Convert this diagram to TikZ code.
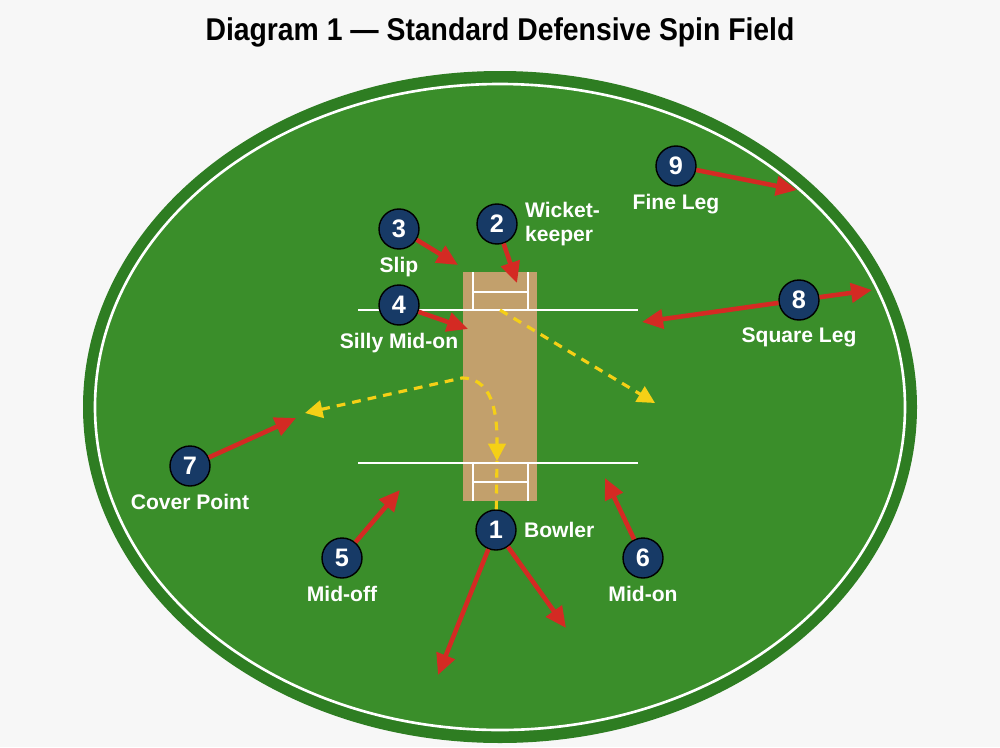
\documentclass[tikz,border=0pt]{standalone}
\usepackage{fontspec}
\setmainfont{Liberation Sans}
\usetikzlibrary{arrows.meta, positioning}
\definecolor{grassdark}{HTML}{2E7D22}
\definecolor{grass}{HTML}{3A8E2A}
\definecolor{pitchtan}{HTML}{C2A06C}
\definecolor{fielder}{HTML}{173A66}
\definecolor{move}{HTML}{D42A23}
\definecolor{ball}{HTML}{F5D016}
\begin{document}
\begin{tikzpicture}[
    x=0.02cm, y=-0.02cm,
    player/.style={circle, draw=black, thick, fill=fielder, text=white, minimum size=40*0.02cm, inner sep=0pt, font=\Large\bfseries},
    plabel/.style={text=white, font=\large\bfseries, align=left, inner sep=0pt},
    run/.style={-{Triangle[length=4.2mm, width=3.8mm]}, move, line width=2.6pt},
    path/.style={-{Triangle[length=3.5mm, width=3.5mm]}, ball, dashed, line width=1.8pt, dash pattern=on 5pt off 4pt},
    crease/.style={white, line width=1.5pt}
]
\useasboundingbox (0,0) rectangle (1000,747);
\fill[black!3] (0,0) rectangle (1000,747);

\node[font=\fontsize{16}{20}\selectfont\bfseries, scale=1.12, xscale=0.9] (title) at (500,32) {Diagram 1 — Standard Defensive Spin Field};

% ground
\fill[grassdark] (500,407) ellipse [x radius=417, y radius=336];
\fill[grass] (500,407) ellipse [x radius=405, y radius=323];
\draw[white, line width=1.5pt] (500,407) ellipse [x radius=405, y radius=323];

% pitch and creases
\fill[pitchtan] (463,272) rectangle (537,501);
\draw[crease] (358,310) -- (638,310);
\draw[crease] (358,463) -- (638,463);
\draw[crease] (473,272) -- (473,310) (528,272) -- (528,310) (473,292) -- (528,292);
\draw[crease] (473,463) -- (473,501) (528,463) -- (528,501) (473,482) -- (528,482);

% fielders
\node[player] (bowler) at (496,530) {1};
\node[player] (keeper) at (497,224) {2};
\node[player] (slip) at (399,229) {3};
\node[player] (silly) at (399,305) {4};
\node[player] (midoff) at (342,558) {5};
\node[player] (midon) at (643,558) {6};
\node[player] (cover) at (190,466) {7};
\node[player] (square) at (799,300) {8};
\node[player] (fine) at (676,166) {9};

\node[plabel, right=4pt] at (bowler.east) {Bowler};
\node[plabel, right=4pt] at (keeper.east) {Wicket-\\keeper};
\node[plabel, below=4pt] at (slip.south) {Slip};
\node[plabel, below=4pt] at (silly.south) {Silly Mid-on};
\node[plabel, below=4pt] at (midoff.south) {Mid-off};
\node[plabel, below=4pt] at (midon.south) {Mid-on};
\node[plabel, below=4pt] at (cover.south) {Cover Point};
\node[plabel, below=4pt] at (square.south) {Square Leg};
\node[plabel, below=4pt] at (fine.south) {Fine Leg};

% movement
\coordinate (slipT) at (458,265);
\coordinate (keeperT) at (517,283);
\coordinate (sillyT) at (468,329);
\coordinate (midoffT) at (400,490);
\coordinate (midonT) at (605,478);
\coordinate (coverT) at (296,418);
\coordinate (squareA) at (872,290);
\coordinate (squareB) at (642,322);
\coordinate (fineT) at (797,190);
\coordinate (bowlA) at (438,675);
\coordinate (bowlB) at (566,628);
\draw[run] (slip) -- (slipT);
\draw[run] (keeper) -- (keeperT);
\draw[run] (silly) -- (sillyT);
\draw[run] (midoff) -- (midoffT);
\draw[run] (midon) -- (midonT);
\draw[run] (cover) -- (coverT);
\draw[run] (square) -- (squareA);
\draw[run] (square) -- (squareB);
\draw[run] (fine) -- (fineT);
\draw[run] (bowler) -- (bowlA);
\draw[run] (bowler) -- (bowlB);

% ball paths
\coordinate (strike) at (500,310);
\coordinate (deflect) at (655,403);
\coordinate (turn) at (462,378);
\coordinate (wide) at (305,413);
\coordinate (stumps) at (497,461);
\draw[path] (strike) -- (deflect);
\draw[path, {Triangle[length=3.5mm, width=3.5mm]}-{Triangle[length=3.5mm, width=3.5mm]}] (wide) -- (turn) to[out=0, in=90] (stumps);
\draw[ball, dashed, line width=1.8pt, dash pattern=on 5pt off 4pt] (bowler) -- (stumps);
\end{tikzpicture}
\end{document}
